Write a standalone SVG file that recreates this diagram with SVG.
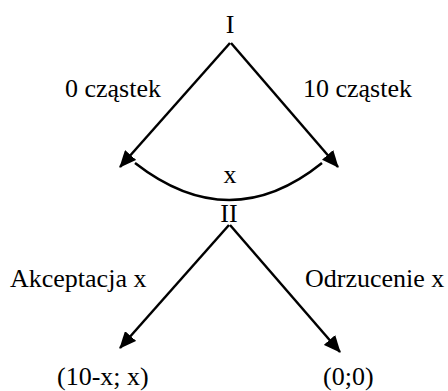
<svg xmlns="http://www.w3.org/2000/svg" width="448" height="391" viewBox="0 0 448 391">
  <style>
    .t { font-family: "Liberation Serif", "Times New Roman", "DejaVu Serif", serif; font-size: 26px; fill: #000; }
    .edge { stroke: #000; stroke-width: 2.5; fill: none; }
  </style>
  <defs>
    <marker id="arrow" markerWidth="17" markerHeight="15" refX="16" refY="7.5" orient="auto" markerUnits="userSpaceOnUse" viewBox="0 0 17 15">
      <path d="M0,0 L17,7.5 L0,15 z" fill="#000"/>
    </marker>
  </defs>
  <rect width="448" height="391" fill="#fff"/>

  <g id="connectors">
    <line class="edge" x1="230" y1="43" x2="120" y2="167" marker-end="url(#arrow)"/>
    <line class="edge" x1="231" y1="43" x2="338" y2="167" marker-end="url(#arrow)"/>
    <path class="edge" d="M135,163 Q230,237 322,163"/>
    <line class="edge" x1="229" y1="225" x2="120" y2="348" marker-end="url(#arrow)"/>
    <line class="edge" x1="230" y1="225" x2="340" y2="352" marker-end="url(#arrow)"/>
  </g>

  <g id="node-I"><text class="t" x="230" y="33" text-anchor="middle">I</text></g>
  <g id="label-0"><text class="t" x="65" y="97">0 cząstek</text></g>
  <g id="label-10"><text class="t" x="303" y="97">10 cząstek</text></g>
  <g id="label-x"><text class="t" x="230" y="183" text-anchor="middle">x</text></g>
  <g id="node-II"><text class="t" x="229" y="222" text-anchor="middle">II</text></g>
  <g id="label-accept"><text class="t" x="10" y="287">Akceptacja x</text></g>
  <g id="label-reject"><text class="t" x="305" y="287">Odrzucenie x</text></g>
  <g id="leaf-accept"><text class="t" x="57" y="385">(10-x; x)</text></g>
  <g id="leaf-reject"><text class="t" x="323" y="385">(0;0)</text></g>
</svg>
